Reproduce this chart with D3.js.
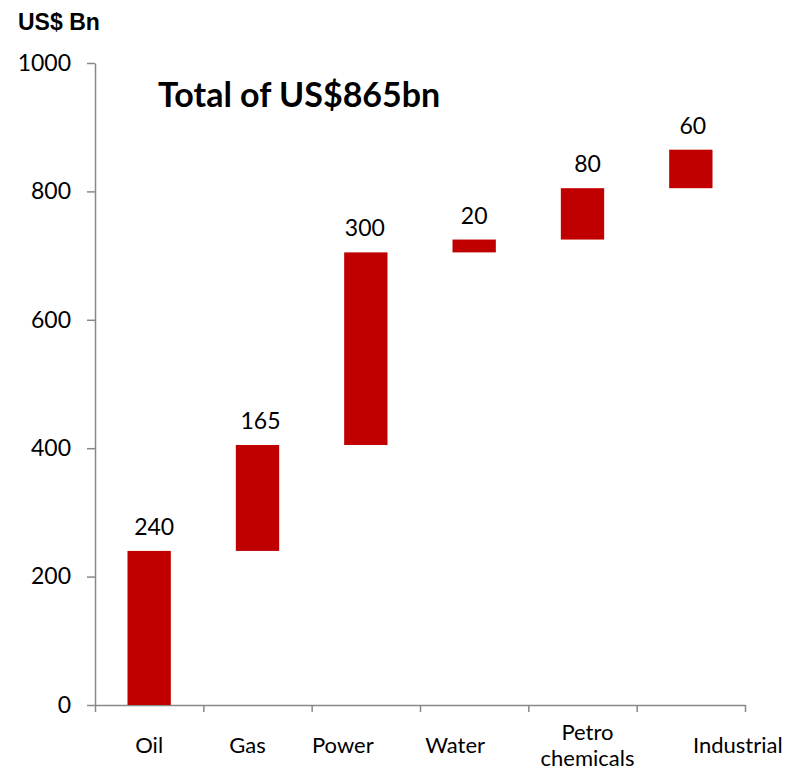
<!DOCTYPE html>
<html>
<head>
<meta charset="utf-8">
<script src="https://cdn.jsdelivr.net/npm/d3@7"></script>
<style>
  body { margin: 0; background: #fff; }
  svg { display: block; }
  .axis path, .axis line { stroke: #898989; stroke-width: 1.5; }
  .ytick text { font-family: Lato, "Open Sans", sans-serif; font-size: 23px; fill: #000; }
  .cat { font-family: Lato, "Open Sans", sans-serif; font-size: 22px; fill: #000; }
  .val { font-family: Lato, "Open Sans", sans-serif; font-size: 23px; fill: #000; }
</style>
</head>
<body>
<div class="canvas"></div>
<script>
// 데이터
const categories = ["Oil", "Gas", "Power", "Water", "Petro\nchemicals", "Industrial"];
const values = [240, 165, 300, 20, 80, 60];
const yTicks = [0, 200, 400, 600, 800, 1000];

const width = 785;
const height = 770;
const marginLeft = 95;
const marginRight = 40;
const marginTop = 63;
const marginBottom = 65;

// 누적 시작값 계산
let run = 0;
const bars = categories.map((c, i) => {
  const start = run;
  run += values[i];
  return { cat: c, start: start, end: run, value: values[i] };
});

const x = d3.scaleBand()
  .domain(categories)
  .range([marginLeft, width - marginRight])
  .paddingInner(0.6)
  .paddingOuter(0.3);

const y = d3.scaleLinear()
  .domain([0, 1000])
  .range([height - marginBottom, marginTop]);

const svg = d3.select(".canvas").append("svg")
  .attr("width", width)
  .attr("height", height);

// y축
svg.append("g")
  .attr("class", "axis ytick")
  .attr("transform", `translate(${marginLeft},0)`)
  .call(d3.axisLeft(y).tickValues(yTicks).tickSize(8).tickSizeOuter(0)
    .tickPadding(16).tickFormat(d3.format("d")));

// x축 (구분선 눈금)
const xb = d3.scaleLinear().domain([0, categories.length]).range([marginLeft, width - marginRight]);
svg.append("g")
  .attr("class", "axis")
  .attr("transform", `translate(0,${y(0)})`)
  .call(d3.axisBottom(xb).ticks(categories.length).tickSize(7).tickSizeOuter(0).tickFormat(""));

// 막대
svg.selectAll("rect.bar")
  .data(bars)
  .join("rect")
  .attr("class", "bar")
  .attr("x", d => x(d.cat))
  .attr("width", x.bandwidth())
  .attr("y", d => y(d.end))
  .attr("height", d => y(d.start) - y(d.end))
  .attr("fill", "#C00000");

// 값 라벨
const valShift = [5, 3, -1, 0, 5, 2];
svg.selectAll("text.val")
  .data(bars)
  .join("text")
  .attr("class", "val")
  .attr("x", (d, i) => x(d.cat) + x.bandwidth() / 2 + valShift[i])
  .attr("y", d => y(d.end) - 16)
  .attr("text-anchor", "middle")
  .text(d => d.value);

// 카테고리 라벨 (원본 위치에 맞춘 이동)
const catShift = [0, -10, -23, -19, 5, 47];
const catG = svg.selectAll("text.cat")
  .data(categories)
  .join("text")
  .attr("class", "cat")
  .attr("text-anchor", "middle")
  .attr("x", (d, i) => x(d) + x.bandwidth() / 2 + catShift[i])
  .attr("y", d => d.includes("\n") ? 740 : 753);
catG.each(function(d) {
  const t = d3.select(this);
  d.split("\n").forEach((ln, k) => {
    t.append("tspan")
      .attr("x", t.attr("x"))
      .attr("dy", k === 0 ? 0 : 26)
      .text(ln);
  });
});

// 제목들
svg.append("text")
  .attr("x", 18).attr("y", 30)
  .attr("font-family", "Liberation Sans, Arial, sans-serif")
  .attr("font-weight", "bold")
  .attr("font-size", 23)
  .text("US$ Bn");

svg.append("text")
  .attr("x", 158).attr("y", 107)
  .attr("font-family", "Lato, sans-serif")
  .attr("font-weight", "bold")
  .attr("font-size", 34)
  .text("Total of US$865bn");
</script>
</body>
</html>
